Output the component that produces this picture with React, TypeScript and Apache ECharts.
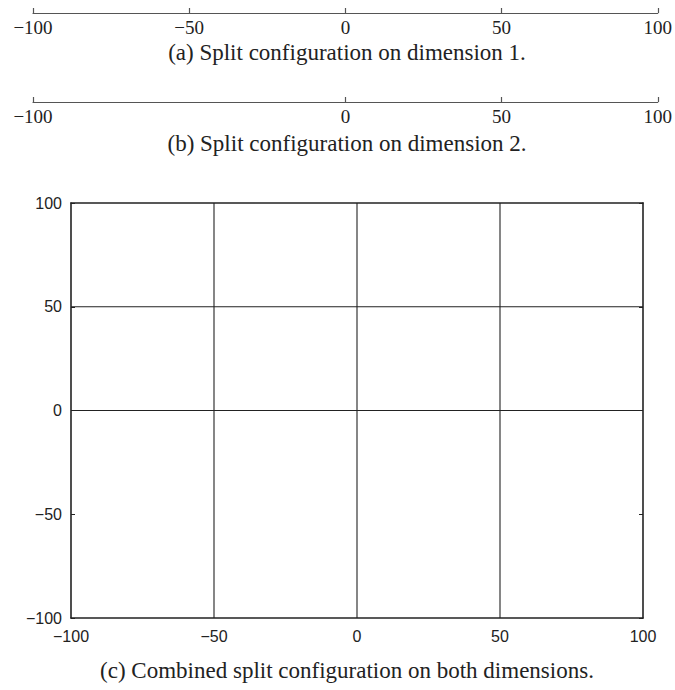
import React, { useEffect, useRef } from "react";
import * as echarts from "echarts";

// Split positions (data)
const dim1Splits = [-50, 0, 50];
const dim2Splits = [0, 50];
const axisMin = -100;
const axisMax = 100;
const captions = [
  "(a) Split configuration on dimension 1.",
  "(b) Split configuration on dimension 2.",
  "(c) Combined split configuration on both dimensions.",
];

const fmt = (v: number) => (v < 0 ? "\u2212" + Math.abs(v) : String(v));

const INK = "#222";
const SERIF = "'Liberation Serif', 'DejaVu Serif', serif";
const SANS = "'Liberation Sans', Arial, sans-serif";

export default function App() {
  const ref = useRef<HTMLDivElement>(null);
  useEffect(() => {
    document.body.style.margin = "0";
    const chart = echarts.init(ref.current!, null, { renderer: "svg" });
    const dim1Ticks = [axisMin, ...dim1Splits, axisMax];
    const dim2Ticks = [axisMin, ...dim2Splits, axisMax];

    const stripAxis = (gridIndex: number, ticks: number[]) => ({
      type: "value",
      gridIndex,
      min: axisMin,
      max: axisMax,
      position: "bottom",
      axisLine: { show: true, onZero: false, lineStyle: { color: "#555", width: 1.2 } },
      axisTick: { show: true, inside: true, length: 5, customValues: ticks, lineStyle: { color: "#555", width: 1.2 } },
      axisLabel: {
        show: true,
        customValues: ticks,
        formatter: fmt,
        margin: 5,
        fontFamily: SERIF,
        fontSize: 19,
        color: INK,
        showMinLabel: true,
        showMaxLabel: true,
      },
      splitLine: { show: false },
    });
    const hiddenY = (gridIndex: number) => ({
      type: "value",
      gridIndex,
      min: 0,
      max: 1,
      show: false,
    });

    const frameLine = { show: true, onZero: false, lineStyle: { color: INK, width: 1.6 } };
    const plotLabel = {
      fontFamily: SANS,
      fontSize: 16,
      color: INK,
      formatter: fmt,
      showMinLabel: true,
      showMaxLabel: true,
    };

    const series: any[] = [];
    dim1Splits.forEach((v) => {
      series.push({
        type: "line",
        xAxisIndex: 2,
        yAxisIndex: 2,
        data: [
          [v, axisMin],
          [v, axisMax],
        ],
        symbol: "none",
        silent: true,
        lineStyle: { color: INK, width: 1.1 },
      });
    });
    dim2Splits.forEach((v) => {
      series.push({
        type: "line",
        xAxisIndex: 2,
        yAxisIndex: 2,
        data: [
          [axisMin, v],
          [axisMax, v],
        ],
        symbol: "none",
        silent: true,
        lineStyle: { color: INK, width: 1.1 },
      });
    });

    const caption = (text: string, y: number) => ({
      type: "text",
      x: 347,
      y,
      style: { text, fontFamily: SERIF, fontSize: 23, fill: INK, align: "center", verticalAlign: "middle" },
    });

    chart.setOption({
      animation: false,
      backgroundColor: "#fff",
      grid: [
        { left: 33, right: 15, top: 12, height: 1 },
        { left: 33, right: 15, top: 101, height: 1 },
        { left: 71, right: 32, top: 203, bottom: 72 },
      ],
      xAxis: [
        stripAxis(0, dim1Ticks),
        stripAxis(1, dim2Ticks),
        {
          type: "value",
          gridIndex: 2,
          min: axisMin,
          max: axisMax,
          interval: 50,
          position: "bottom",
          axisLine: frameLine,
          axisTick: { show: false },
          axisLabel: { ...plotLabel, margin: 10 },
          splitLine: { show: false },
        },
        {
          type: "value",
          gridIndex: 2,
          min: axisMin,
          max: axisMax,
          interval: 50,
          position: "top",
          axisLine: frameLine,
          axisTick: { show: false },
          axisLabel: { show: false },
          splitLine: { show: false },
        },
      ],
      yAxis: [
        hiddenY(0),
        hiddenY(1),
        {
          type: "value",
          gridIndex: 2,
          min: axisMin,
          max: axisMax,
          interval: 50,
          position: "left",
          axisLine: frameLine,
          axisTick: { show: true, inside: true, length: 4, lineStyle: { color: INK, width: 1 } },
          axisLabel: { ...plotLabel, margin: 9 },
          splitLine: { show: false },
        },
        {
          type: "value",
          gridIndex: 2,
          min: axisMin,
          max: axisMax,
          interval: 50,
          position: "right",
          axisLine: frameLine,
          axisTick: { show: true, inside: true, length: 4, lineStyle: { color: INK, width: 1 } },
          axisLabel: { show: false },
          splitLine: { show: false },
        },
      ],
      series,
      graphic: [caption(captions[0], 52), caption(captions[1], 143), caption(captions[2], 670)],
    });
    return () => chart.dispose();
  }, []);
  return <div ref={ref} style={{ width: 675, height: 690 }} />;
}
